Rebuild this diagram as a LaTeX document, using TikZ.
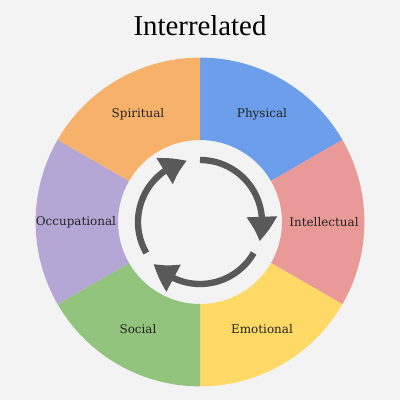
\documentclass[tikz,border=0pt]{standalone}
\usepackage{fontspec}
\setmainfont{DejaVu Serif}
\newfontfamily\titlefont{Liberation Serif}
\usetikzlibrary{arrows.meta,bending}
\definecolor{bgpaper}{RGB}{243,243,243}
\definecolor{physblue}{RGB}{109,158,235}
\definecolor{intred}{RGB}{234,153,153}
\definecolor{emoyellow}{RGB}{255,217,102}
\definecolor{socgreen}{RGB}{147,196,125}
\definecolor{occpurple}{RGB}{180,167,214}
\definecolor{spirorange}{RGB}{246,178,107}
\definecolor{ink}{RGB}{34,34,34}
\definecolor{cycgray}{RGB}{89,89,89}
\tikzset{
  sector/.style={fill=#1, draw=none},
  lbl/.style={font=\fontsize{8.5}{10}\selectfont, text=ink, inner sep=1pt},
  ttl/.style={font=\titlefont\fontsize{20.5}{24}\selectfont, text=black},
  cyc/.style={draw=cycgray, line width=4.5pt, -{Triangle[length=0.62cm, width=0.72cm, bend]}}
}
\begin{document}
\begin{tikzpicture}
  \fill[bgpaper] (-5,-4.45) rectangle (5,5.55);
  \useasboundingbox (-5,-4.45) rectangle (5,5.55);
  \node[ttl] (title) at (0,4.9) {Interrelated};
  % ring of six sectors
  \foreach \a/\col/\txt/\nm in {30/physblue/Physical/phys, -30/intred/Intellectual/intel, -90/emoyellow/Emotional/emo, -150/socgreen/Social/soc, 150/occpurple/Occupational/occ, 90/spirorange/Spiritual/spir} {
    \fill[sector=\col] (\a:4.11) arc[start angle=\a, end angle=\a+60, radius=4.11]
      -- (\a+60:2.05) arc[start angle=\a+60, end angle=\a, radius=2.05] -- cycle;
    \node[lbl] (\nm) at (\a+30:3.1) {\txt};
  }
  % cycle arrows
  \foreach \s in {210,90,-30}
    \draw[cyc] (\s:1.55) arc[start angle=\s, end angle=\s-108, radius=1.55];
\end{tikzpicture}
\end{document}
